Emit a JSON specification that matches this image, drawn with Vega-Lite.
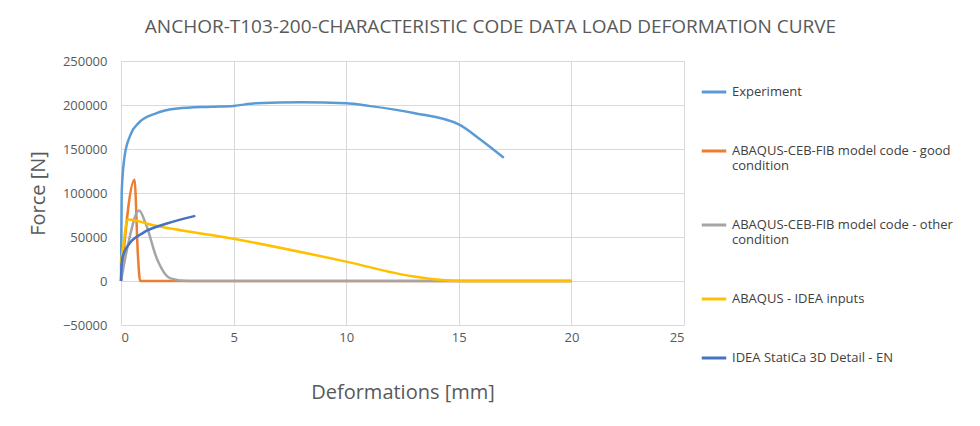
{
  "$schema": "https://vega.github.io/schema/vega-lite/v6.json",
  "width": 563,
  "height": 264,
  "padding": {"left": 28, "top": 18, "right": 5, "bottom": 5},
  "background": "white",
  "title": {"text": "ANCHOR-T103-200-CHARACTERISTIC CODE DATA LOAD DEFORMATION CURVE", "font": "Open Sans", "fontSize": 19, "fontWeight": "normal", "color": "#595959", "anchor": "middle", "offset": 18, "dx": 88},
  "config": {"view": {"stroke": null}, "font": "Open Sans"},
  "data": {"values": [
    {"s": "Experiment", "x": 0, "y": 0},
    {"s": "Experiment", "x": 0.03, "y": 100000},
    {"s": "Experiment", "x": 0.15, "y": 140000},
    {"s": "Experiment", "x": 0.4, "y": 165000},
    {"s": "Experiment", "x": 0.8, "y": 180000},
    {"s": "Experiment", "x": 1.5, "y": 190000},
    {"s": "Experiment", "x": 2.5, "y": 196000},
    {"s": "Experiment", "x": 4, "y": 198000},
    {"s": "Experiment", "x": 5, "y": 199000},
    {"s": "Experiment", "x": 6, "y": 202000},
    {"s": "Experiment", "x": 8, "y": 203000},
    {"s": "Experiment", "x": 10, "y": 202000},
    {"s": "Experiment", "x": 11, "y": 199000},
    {"s": "Experiment", "x": 13, "y": 191000},
    {"s": "Experiment", "x": 15, "y": 178000},
    {"s": "Experiment", "x": 16, "y": 160000},
    {"s": "Experiment", "x": 17, "y": 140000},
    {"s": "ABAQUS-CEB-FIB model code - good condition", "x": 0, "y": 0},
    {"s": "ABAQUS-CEB-FIB model code - good condition", "x": 0.6, "y": 115000},
    {"s": "ABAQUS-CEB-FIB model code - good condition", "x": 0.75, "y": 30000},
    {"s": "ABAQUS-CEB-FIB model code - good condition", "x": 0.85, "y": 0},
    {"s": "ABAQUS-CEB-FIB model code - good condition", "x": 20, "y": 0},
    {"s": "ABAQUS-CEB-FIB model code - other condition", "x": 0, "y": 0},
    {"s": "ABAQUS-CEB-FIB model code - other condition", "x": 0.3, "y": 40000},
    {"s": "ABAQUS-CEB-FIB model code - other condition", "x": 0.8, "y": 80000},
    {"s": "ABAQUS-CEB-FIB model code - other condition", "x": 1.1, "y": 65000},
    {"s": "ABAQUS-CEB-FIB model code - other condition", "x": 1.6, "y": 25000},
    {"s": "ABAQUS-CEB-FIB model code - other condition", "x": 2.2, "y": 3000},
    {"s": "ABAQUS-CEB-FIB model code - other condition", "x": 3, "y": 0},
    {"s": "ABAQUS-CEB-FIB model code - other condition", "x": 20, "y": 0},
    {"s": "ABAQUS - IDEA inputs", "x": 0, "y": 20000},
    {"s": "ABAQUS - IDEA inputs", "x": 0.1, "y": 40000},
    {"s": "ABAQUS - IDEA inputs", "x": 0.3, "y": 70000},
    {"s": "ABAQUS - IDEA inputs", "x": 1.5, "y": 63000},
    {"s": "ABAQUS - IDEA inputs", "x": 5, "y": 48000},
    {"s": "ABAQUS - IDEA inputs", "x": 10, "y": 22000},
    {"s": "ABAQUS - IDEA inputs", "x": 13, "y": 5000},
    {"s": "ABAQUS - IDEA inputs", "x": 15, "y": 0},
    {"s": "ABAQUS - IDEA inputs", "x": 20, "y": 0},
    {"s": "IDEA StatiCa 3D Detail - EN", "x": 0, "y": 0},
    {"s": "IDEA StatiCa 3D Detail - EN", "x": 0.05, "y": 25000},
    {"s": "IDEA StatiCa 3D Detail - EN", "x": 0.3, "y": 40000},
    {"s": "IDEA StatiCa 3D Detail - EN", "x": 1, "y": 55000},
    {"s": "IDEA StatiCa 3D Detail - EN", "x": 2, "y": 65000},
    {"s": "IDEA StatiCa 3D Detail - EN", "x": 3.3, "y": 74000}
  ]},
  "mark": {"type": "line", "strokeWidth": 2.5, "interpolate": "monotone"},
  "encoding": {
    "x": {"field": "x", "type": "quantitative", "title": "Deformations [mm]",
      "scale": {"domain": [0, 25], "nice": false},
      "axis": {"values": [0, 5, 10, 15, 20, 25], "grid": true, "gridColor": "#d9d9d9", "domain": false, "ticks": false, "labelColor": "#595959", "labelFontSize": 13, "titleFontSize": 20, "titleFontWeight": "normal", "titleColor": "#595959", "titlePadding": 38, "labelPadding": 6}},
    "y": {"field": "y", "type": "quantitative", "title": "Force [N]",
      "scale": {"domain": [-50000, 250000], "nice": false},
      "axis": {"values": [-50000, 0, 50000, 100000, 150000, 200000, 250000], "labelOverlap": false, "format": "d", "gridColor": "#d9d9d9", "domain": false, "ticks": false, "labelColor": "#595959", "labelFontSize": 13, "titleFontSize": 20, "titleFontWeight": "normal", "titleColor": "#595959", "titlePadding": 14, "labelPadding": 14}},
    "color": {"field": "s", "type": "nominal", "title": null,
      "sort": ["Experiment", "ABAQUS-CEB-FIB model code - good condition", "ABAQUS-CEB-FIB model code - other condition", "ABAQUS - IDEA inputs", "IDEA StatiCa 3D Detail - EN"],
      "scale": {"domain": ["Experiment", "ABAQUS-CEB-FIB model code - good condition", "ABAQUS-CEB-FIB model code - other condition", "ABAQUS - IDEA inputs", "IDEA StatiCa 3D Detail - EN"], "range": ["#5B9BD5", "#ED7D31", "#A5A5A5", "#FFC000", "#4472C4"]},
      "legend": {"orient": "none", "legendX": 579, "legendY": 17, "symbolType": "stroke", "symbolStrokeWidth": 3, "symbolSize": 600, "labelFontSize": 13, "labelColor": "#404040", "labelLimit": 300, "rowPadding": 38, "padding": 0,
        "labelExpr": "indexof(datum.label, ' - good') > 0 ? ['ABAQUS-CEB-FIB model code - good', 'condition'] : indexof(datum.label, ' - other') > 0 ? ['ABAQUS-CEB-FIB model code - other', 'condition'] : datum.label"}}
  }
}
